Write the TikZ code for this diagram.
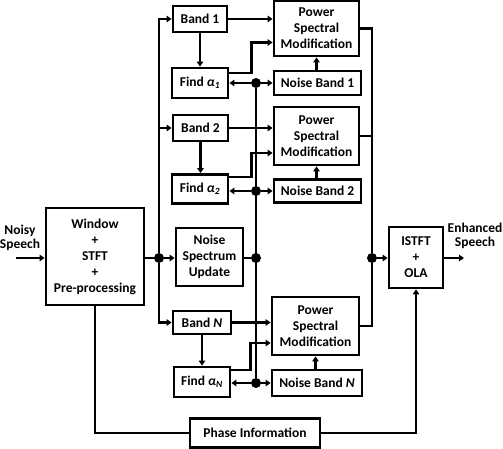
\documentclass[tikz,border=0pt]{standalone}
\usepackage{fontspec}
\setmainfont{Carlito}
\usetikzlibrary{arrows.meta,calc}
\begin{document}
\begin{tikzpicture}[x=1pt,y=-1pt,
  box/.style={draw,line width=2.8pt,inner sep=0pt,align=center,font=\bfseries\fontsize{13.5}{16}\selectfont},
  lbl/.style={align=center,inner sep=0pt,font=\bfseries\fontsize{13.5}{14.5}\selectfont},
  ln/.style={line width=2.6pt},
  arr/.style={line width=2.6pt,-{Triangle[length=5pt,width=6.5pt]}},
  dot/.style={circle,fill,inner sep=0pt,minimum size=10pt}]
\useasboundingbox (0,0) rectangle (503,449);
% boxes
\node[box,minimum width=54pt,minimum height=26pt] (band1) at (200,19) {Band 1};
\node[box,minimum width=85pt,minimum height=55pt] (psm1) at (316.5,28.5) {Power\\Spectral\\Modification};
\node[box,minimum width=56pt,minimum height=30pt] (find1) at (200,83) {Find {\itshape α}\textsubscript{\itshape 1}};
\node[box,minimum width=87pt,minimum height=24pt] (nb1) at (317.5,83) {Noise Band 1};

\node[box,minimum width=55pt,minimum height=26pt] (band2) at (200.5,128) {Band 2};
\node[box,minimum width=85pt,minimum height=58pt] (psm2) at (316.5,136) {Power\\Spectral\\Modification};
\node[box,minimum width=56pt,minimum height=29pt] (find2) at (200,189) {Find {\itshape α}\textsubscript{\itshape 2}};
\node[box,minimum width=87pt,minimum height=23pt] (nb2) at (317.5,191) {Noise Band 2};

\node[box,minimum width=67pt,minimum height=58pt] (nsu) at (209.5,257) {Noise\\Spectrum\\Update};
\node[box,minimum width=98pt,minimum height=97pt] (win) at (95,256.5) {Window\\+\\STFT\\+\\Pre-processing};

\node[box,minimum width=58pt,minimum height=23pt] (bandN) at (202,322.5) {Band {\itshape N}};
\node[box,minimum width=87pt,minimum height=58pt] (psmN) at (315.5,326) {Power\\Spectral\\Modification};
\node[box,minimum width=56pt,minimum height=30pt] (findN) at (202,382) {Find {\itshape α}\textsubscript{\itshape N}};
\node[box,minimum width=90pt,minimum height=26pt] (nbN) at (317,383) {Noise Band {\itshape N}};

\node[box,minimum width=130pt,minimum height=29pt] (phase) at (255,433) {Phase Information};
\node[box,minimum width=54pt,minimum height=61pt] (istft) at (416,257.5) {ISTFT\\+\\OLA};

% labels
\node[lbl] (noisy) at (20,238) {Noisy\\Speech};
\node[lbl] (enh) at (475,236) {Enhanced\\Speech};
\coordinate (nsin) at (16,258);
\coordinate (esout) at (464,258);

% dots
\node[dot] (dotL) at (159,258) {};
\node[dot] (dotM) at (256,258) {};
\node[dot] (dotR) at (372,258) {};
\node[dot] (d1) at (256,83) {};
\node[dot] (d2) at (256,191) {};
\node[dot] (dN) at (256,383) {};

% input
\draw[arr] (nsin) -- (nsin -| win.west);
\draw[ln] (win.east |- dotL) -- (dotL);
\draw[arr] (dotL) -- (dotL -| nsu.west);
\draw[arr] (dotL) |- (band1.west);
\draw[arr] (dotL |- band2.west) -- (band2.west);
\draw[arr] (dotL) |- (bandN.west);

% band -> psm, band -> find
\draw[arr] (band1.east) -- (band1.east -| psm1.west);
\draw[arr] (band1.south) -- (band1.south |- find1.north);
\draw[arr] ($(find1.east)+(0,-10)$) -- ++(22,0) |- ($(psm1.west)+(0,14)$);
\draw[arr] (psm1.south |- nb1.north) -- (psm1.south);

\draw[arr] (band2.east) -- (band2.east -| psm2.west);
\draw[arr] (band2.south) -- (band2.south |- find2.north);
\draw[arr] ($(find2.east)+(0,-12)$) -- ++(22,0) |- ($(psm2.west)+(0,17)$);
\draw[arr] (psm2.south |- nb2.north) -- (psm2.south);

\draw[arr] (bandN.east) -- (bandN.east -| psmN.west);
\draw[arr] (bandN.south) -- (bandN.south |- findN.north);
\draw[arr] ($(findN.east)+(0,-12)$) -- ++(19,0) |- ($(psmN.west)+(0,17)$);
\draw[arr] (psmN.south |- nbN.north) -- (psmN.south);

% noise distribution
\draw[ln] (d1) -- (dN);
\draw[ln] (nsu.east |- dotM) -- (dotM);
\draw[arr] (d1) -- (d1 -| find1.east);
\draw[arr] (d1) -- (d1 -| nb1.west);
\draw[arr] (d2) -- (d2 -| find2.east);
\draw[arr] (d2) -- (d2 -| nb2.west);
\draw[arr] (dN) -- (dN -| findN.east);
\draw[arr] (dN) -- (dN -| nbN.west);

% output collection
\draw[ln] (psm1.east) -| (dotR);
\draw[ln] (psm2.east) -- (psm2.east -| dotR);
\draw[ln] (psmN.east) -| (dotR);
\draw[arr] (dotR) -- (dotR -| istft.west);
\draw[arr] (istft.east |- esout) -- (esout);

% phase path
\draw[ln] (win.south) |- (phase.west);
\draw[arr] (phase.east) -| (istft.south);
\end{tikzpicture}
\end{document}
